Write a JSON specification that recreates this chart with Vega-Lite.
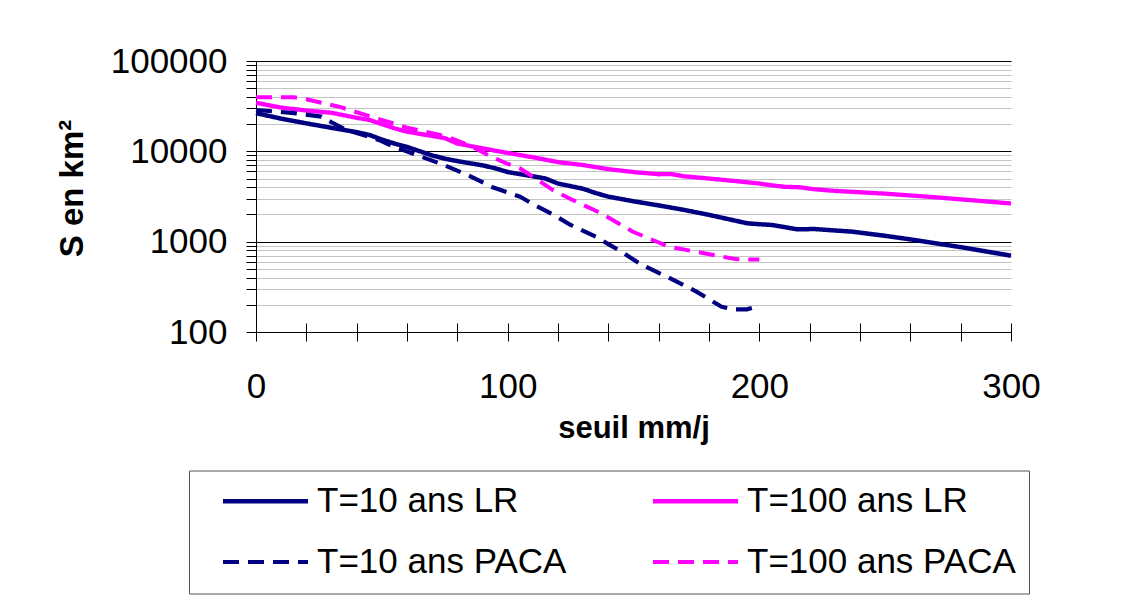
{
  "$schema": "https://vega.github.io/schema/vega-lite/v6.json",
  "width": 755,
  "height": 271,
  "autosize": {"type": "none"},
  "padding": {"left": 256, "top": 61, "right": 117, "bottom": 274},
  "background": "white",
  "config": {"view": {"stroke": null}, "font": "Liberation Sans"},
  "data": {"values": [
    {"s": "T=10 ans LR", "x": 0, "v": 26500},
    {"s": "T=10 ans LR", "x": 10, "v": 23000},
    {"s": "T=10 ans LR", "x": 20, "v": 20400},
    {"s": "T=10 ans LR", "x": 30, "v": 18200},
    {"s": "T=10 ans LR", "x": 40, "v": 16300},
    {"s": "T=10 ans LR", "x": 45, "v": 15200},
    {"s": "T=10 ans LR", "x": 50, "v": 13500},
    {"s": "T=10 ans LR", "x": 55, "v": 12200},
    {"s": "T=10 ans LR", "x": 60, "v": 11200},
    {"s": "T=10 ans LR", "x": 70, "v": 9000},
    {"s": "T=10 ans LR", "x": 75, "v": 8300},
    {"s": "T=10 ans LR", "x": 80, "v": 7800},
    {"s": "T=10 ans LR", "x": 90, "v": 7000},
    {"s": "T=10 ans LR", "x": 95, "v": 6500},
    {"s": "T=10 ans LR", "x": 100, "v": 5900},
    {"s": "T=10 ans LR", "x": 110, "v": 5300},
    {"s": "T=10 ans LR", "x": 115, "v": 5000},
    {"s": "T=10 ans LR", "x": 120, "v": 4400},
    {"s": "T=10 ans LR", "x": 130, "v": 3850},
    {"s": "T=10 ans LR", "x": 135, "v": 3450},
    {"s": "T=10 ans LR", "x": 140, "v": 3150},
    {"s": "T=10 ans LR", "x": 150, "v": 2800},
    {"s": "T=10 ans LR", "x": 160, "v": 2520},
    {"s": "T=10 ans LR", "x": 170, "v": 2250},
    {"s": "T=10 ans LR", "x": 180, "v": 1980},
    {"s": "T=10 ans LR", "x": 190, "v": 1720},
    {"s": "T=10 ans LR", "x": 195, "v": 1600},
    {"s": "T=10 ans LR", "x": 200, "v": 1560},
    {"s": "T=10 ans LR", "x": 205, "v": 1530},
    {"s": "T=10 ans LR", "x": 210, "v": 1450},
    {"s": "T=10 ans LR", "x": 215, "v": 1370},
    {"s": "T=10 ans LR", "x": 222, "v": 1380},
    {"s": "T=10 ans LR", "x": 230, "v": 1330},
    {"s": "T=10 ans LR", "x": 237, "v": 1290},
    {"s": "T=10 ans LR", "x": 250, "v": 1160},
    {"s": "T=10 ans LR", "x": 260, "v": 1060},
    {"s": "T=10 ans LR", "x": 270, "v": 960},
    {"s": "T=10 ans LR", "x": 280, "v": 870},
    {"s": "T=10 ans LR", "x": 290, "v": 780},
    {"s": "T=10 ans LR", "x": 300, "v": 700},
    {"s": "T=100 ans LR", "x": 0, "v": 34500},
    {"s": "T=100 ans LR", "x": 10, "v": 30500},
    {"s": "T=100 ans LR", "x": 20, "v": 28300},
    {"s": "T=100 ans LR", "x": 30, "v": 26700},
    {"s": "T=100 ans LR", "x": 40, "v": 23500},
    {"s": "T=100 ans LR", "x": 45, "v": 22300},
    {"s": "T=100 ans LR", "x": 50, "v": 20000},
    {"s": "T=100 ans LR", "x": 55, "v": 18000},
    {"s": "T=100 ans LR", "x": 60, "v": 16500},
    {"s": "T=100 ans LR", "x": 70, "v": 14800},
    {"s": "T=100 ans LR", "x": 75, "v": 14000},
    {"s": "T=100 ans LR", "x": 80, "v": 12200},
    {"s": "T=100 ans LR", "x": 90, "v": 10800},
    {"s": "T=100 ans LR", "x": 100, "v": 9600},
    {"s": "T=100 ans LR", "x": 110, "v": 8600},
    {"s": "T=100 ans LR", "x": 120, "v": 7600},
    {"s": "T=100 ans LR", "x": 130, "v": 7050},
    {"s": "T=100 ans LR", "x": 140, "v": 6350},
    {"s": "T=100 ans LR", "x": 150, "v": 5900},
    {"s": "T=100 ans LR", "x": 160, "v": 5580},
    {"s": "T=100 ans LR", "x": 165, "v": 5600},
    {"s": "T=100 ans LR", "x": 170, "v": 5300},
    {"s": "T=100 ans LR", "x": 180, "v": 5000},
    {"s": "T=100 ans LR", "x": 190, "v": 4700},
    {"s": "T=100 ans LR", "x": 200, "v": 4400},
    {"s": "T=100 ans LR", "x": 205, "v": 4200},
    {"s": "T=100 ans LR", "x": 210, "v": 4050},
    {"s": "T=100 ans LR", "x": 216, "v": 4000},
    {"s": "T=100 ans LR", "x": 222, "v": 3800},
    {"s": "T=100 ans LR", "x": 230, "v": 3650},
    {"s": "T=100 ans LR", "x": 250, "v": 3400},
    {"s": "T=100 ans LR", "x": 270, "v": 3100},
    {"s": "T=100 ans LR", "x": 300, "v": 2650},
    {"s": "T=10 ans PACA", "x": 0, "v": 28700},
    {"s": "T=10 ans PACA", "x": 8, "v": 27500},
    {"s": "T=10 ans PACA", "x": 15, "v": 26500},
    {"s": "T=10 ans PACA", "x": 26, "v": 24200},
    {"s": "T=10 ans PACA", "x": 30, "v": 21000},
    {"s": "T=10 ans PACA", "x": 36, "v": 17200},
    {"s": "T=10 ans PACA", "x": 40, "v": 16000},
    {"s": "T=10 ans PACA", "x": 49, "v": 13300},
    {"s": "T=10 ans PACA", "x": 55, "v": 11200},
    {"s": "T=10 ans PACA", "x": 65, "v": 8870},
    {"s": "T=10 ans PACA", "x": 74, "v": 7180},
    {"s": "T=10 ans PACA", "x": 85, "v": 5330},
    {"s": "T=10 ans PACA", "x": 94, "v": 4000},
    {"s": "T=10 ans PACA", "x": 105, "v": 3140},
    {"s": "T=10 ans PACA", "x": 110, "v": 2600},
    {"s": "T=10 ans PACA", "x": 118, "v": 2000},
    {"s": "T=10 ans PACA", "x": 125, "v": 1530},
    {"s": "T=10 ans PACA", "x": 135, "v": 1135},
    {"s": "T=10 ans PACA", "x": 140, "v": 940},
    {"s": "T=10 ans PACA", "x": 145, "v": 780},
    {"s": "T=10 ans PACA", "x": 153, "v": 560},
    {"s": "T=10 ans PACA", "x": 164, "v": 400},
    {"s": "T=10 ans PACA", "x": 175, "v": 280},
    {"s": "T=10 ans PACA", "x": 185, "v": 190},
    {"s": "T=10 ans PACA", "x": 190, "v": 178},
    {"s": "T=10 ans PACA", "x": 195, "v": 178},
    {"s": "T=10 ans PACA", "x": 200, "v": 194},
    {"s": "T=100 ans PACA", "x": 0, "v": 39600},
    {"s": "T=100 ans PACA", "x": 10, "v": 39800},
    {"s": "T=100 ans PACA", "x": 15, "v": 39600},
    {"s": "T=100 ans PACA", "x": 20, "v": 37700},
    {"s": "T=100 ans PACA", "x": 33, "v": 31200},
    {"s": "T=100 ans PACA", "x": 45, "v": 24500},
    {"s": "T=100 ans PACA", "x": 60, "v": 18300},
    {"s": "T=100 ans PACA", "x": 76, "v": 14500},
    {"s": "T=100 ans PACA", "x": 86, "v": 11250},
    {"s": "T=100 ans PACA", "x": 93, "v": 8870},
    {"s": "T=100 ans PACA", "x": 99.5, "v": 7360},
    {"s": "T=100 ans PACA", "x": 105, "v": 6460},
    {"s": "T=100 ans PACA", "x": 110, "v": 5230},
    {"s": "T=100 ans PACA", "x": 118, "v": 3720},
    {"s": "T=100 ans PACA", "x": 126, "v": 2880},
    {"s": "T=100 ans PACA", "x": 135, "v": 2200},
    {"s": "T=100 ans PACA", "x": 140, "v": 1850},
    {"s": "T=100 ans PACA", "x": 150, "v": 1280},
    {"s": "T=100 ans PACA", "x": 164, "v": 880},
    {"s": "T=100 ans PACA", "x": 175, "v": 773},
    {"s": "T=100 ans PACA", "x": 184, "v": 692},
    {"s": "T=100 ans PACA", "x": 191, "v": 640},
    {"s": "T=100 ans PACA", "x": 200, "v": 633}
  ]},
  "layer": [
    {
      "mark": {"type": "line", "strokeJoin": "round"},
      "encoding": {
        "x": {
          "field": "x", "type": "quantitative",
          "scale": {"domain": [0, 300], "nice": false, "zero": false},
          "axis": {
            "values": [0, 20, 40, 60, 80, 100, 120, 140, 160, 180, 200, 220, 240, 260, 280, 300],
            "labelExpr": "datum.value % 100 == 0 ? datum.label : ''",
            "grid": false,
            "domainColor": "black", "domainWidth": 1,
            "tickColor": "black", "tickSize": 9, "tickWidth": 1,
            "labelFont": "Liberation Sans", "labelFontSize": 35, "labelColor": "black",
            "labelPadding": 28, "labelFlush": false, "labelOverlap": false, "labelBound": false,
            "title": "seuil mm/j",
            "titleFont": "Liberation Sans", "titleFontSize": 31, "titleFontWeight": "bold", "titleColor": "black",
            "titleBaseline": "alphabetic", "titleY": 105
          }
        },
        "y": {
          "field": "v", "type": "quantitative",
          "scale": {"type": "log", "domain": [100, 100000], "nice": false},
          "axis": {
            "values": [100, 200, 300, 400, 500, 600, 700, 800, 900, 1000, 2000, 3000, 4000, 5000, 6000, 7000, 8000, 9000, 10000, 20000, 30000, 40000, 50000, 60000, 70000, 80000, 90000, 100000],
            "format": "d",
            "labelExpr": "indexof([100, 1000, 10000, 100000], datum.value) >= 0 ? datum.label : ''",
            "grid": true,
            "gridColor": {"condition": {"test": "indexof([100, 1000, 10000, 100000], datum.value) >= 0", "value": "#000000"}, "value": "#c4c4c4"},
            "gridWidth": 1,
            "domainColor": "black", "domainWidth": 1,
            "tickColor": "black", "tickSize": 10, "tickWidth": 1,
            "labelFont": "Liberation Sans", "labelFontSize": 35, "labelColor": "black",
            "labelPadding": 19, "labelOverlap": false, "labelBound": false, "labelFlush": false,
            "title": "S en km²",
            "titleFont": "Liberation Sans", "titleFontSize": 33, "titleFontWeight": "bold", "titleColor": "black",
            "titleAngle": -90, "titleBaseline": "alphabetic", "titleAlign": "center",
            "titleX": -174, "titleY": 127
          }
        },
        "color": {
          "field": "s", "type": "nominal",
          "scale": {"domain": ["T=10 ans LR", "T=100 ans LR", "T=10 ans PACA", "T=100 ans PACA"], "range": ["#000080", "#FF00FF", "#000080", "#FF00FF"]},
          "legend": {
            "title": null,
            "orient": "none", "legendX": -67, "legendY": 409.5,
            "direction": "horizontal",
            "columns": 2,
            "values": ["T=10 ans LR", "T=100 ans LR", "T=10 ans PACA", "T=100 ans PACA"],
            "symbolType": "M-3,0H3", "symbolSize": 803,
            "symbolOffset": 46,
            "labelFont": "Liberation Sans", "labelFontSize": 35, "labelColor": "black",
            "labelOffset": 34, "labelLimit": 600,
            "columnPadding": 65, "rowPadding": 25,
            "padding": 13,
            "strokeColor": "#555555", "fillColor": "white"
          }
        },
        "strokeDash": {
          "field": "s", "type": "nominal",
          "scale": {"domain": ["T=10 ans LR", "T=100 ans LR", "T=10 ans PACA", "T=100 ans PACA"], "range": [[1, 0], [1, 0], [16, 9], [16, 9]]},
          "legend": null
        },
        "strokeWidth": {
          "field": "s", "type": "nominal",
          "scale": {"domain": ["T=10 ans LR", "T=100 ans LR", "T=10 ans PACA", "T=100 ans PACA"], "range": [4.5, 4, 3, 3]},
          "legend": null
        }
      }
    },
    {
      "mark": {"type": "rule", "opacity": 0},
      "encoding": {
        "x": {
          "field": "x", "type": "quantitative",
          "axis": {
            "orient": "bottom",
            "values": [0, 20, 40, 60, 80, 100, 120, 140, 160, 180, 200, 220, 240, 260, 280, 300],
            "labels": false, "domain": false, "grid": false,
            "tickColor": "black", "tickSize": -9, "tickWidth": 1,
            "title": null
          }
        }
      }
    },
    {
      "mark": {"type": "rule", "opacity": 0},
      "encoding": {
        "y": {
          "field": "v", "type": "quantitative",
          "axis": {
            "orient": "left",
            "values": [100, 1000, 10000, 100000],
            "labels": false, "domain": false, "grid": false,
            "tickColor": "black", "tickSize": -5, "tickWidth": 1,
            "title": null
          }
        }
      }
    }
  ],
  "resolve": {"axis": {"x": "independent", "y": "independent"}}
}
